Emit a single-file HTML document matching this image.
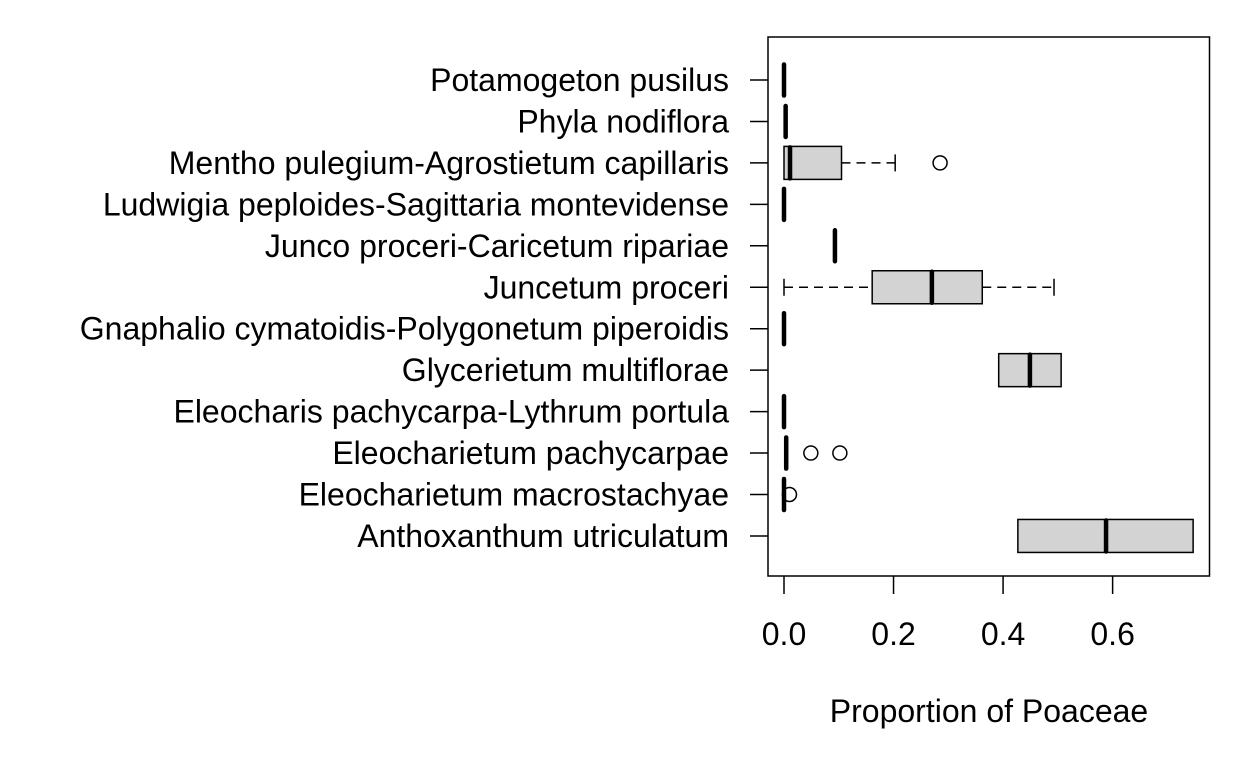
<!DOCTYPE html>
<html><head><meta charset="utf-8"><style>
html,body{margin:0;padding:0;background:#fff}
svg{display:block;font-family:"Liberation Sans",Arial,sans-serif}
</style></head><body>
<svg id="chart" width="1248" height="768" viewBox="0 0 1248 768">
<rect x="768" y="37" width="441.5" height="539" fill="none" stroke="#000" stroke-width="1.5"/>
<g id="marks"></g>
<text x="989" y="722" text-anchor="middle" font-size="32">Proportion of Poaceae</text>
</svg>
<script>
const categories = ["Potamogeton pusilus","Phyla nodiflora","Mentho pulegium-Agrostietum capillaris","Ludwigia peploides-Sagittaria montevidense","Junco proceri-Caricetum ripariae","Juncetum proceri","Gnaphalio cymatoidis-Polygonetum piperoidis","Glycerietum multiflorae","Eleocharis pachycarpa-Lythrum portula","Eleocharietum pachycarpae","Eleocharietum macrostachyae","Anthoxanthum utriculatum"];
const whiskerLow = [0,0.003,0,0,0.093,0,0,0.392,0,0.002,0,0.427];
const q1 = [0,0.003,0,0,0.093,0.161,0,0.392,0,0.002,0,0.427];
const medians = [0,0.003,0.011,0,0.093,0.270,0,0.449,0,0.004,0,0.588];
const q3 = [0,0.003,0.105,0,0.093,0.362,0,0.506,0,0.006,0,0.747];
const whiskerHigh = [0,0.003,0.203,0,0.093,0.493,0,0.506,0,0.006,0,0.747];
const outliers = [[],[],[0.285],[],[],[],[],[],[],[0.049,0.102],[0.010],[]];
const xTicks = [0,0.2,0.4,0.6];
const xTickLabels = ["0.0","0.2","0.4","0.6"];

const NS="http://www.w3.org/2000/svg";
const g=document.getElementById('marks');
const xs=v=>784+v*547.7;
const ys=i=>80+i*41.45;
function mk(tag,attrs){const e=document.createElementNS(NS,tag);for(const k in attrs)e.setAttribute(k,attrs[k]);g.appendChild(e);return e;}

xTicks.forEach((t,i)=>{
  const l=mk('line',{x1:xs(t),x2:xs(t),y1:576,y2:594,stroke:'#000','stroke-width':1.5});
  
  
  const tx=mk('text',{x:xs(t),y:645,'text-anchor':'middle','font-size':32});
  tx.textContent=xTickLabels[i];
  
  
});

categories.forEach((c,i)=>{
  const y=ys(i);
  const tk=mk('line',{x1:750,x2:768,y1:y,y2:y,stroke:'#000','stroke-width':1.5});
  
  
  const lb=mk('text',{x:729,y:y+11,'text-anchor':'end','font-size':32});
  lb.textContent=c;
  
  
  const h=16.5;
  if(whiskerLow[i]<q1[i]){
    const w=mk('line',{x1:xs(whiskerLow[i]),x2:xs(q1[i]),y1:y,y2:y,stroke:'#000','stroke-width':1.5,'stroke-dasharray':'9,6'});
    
    
    const cp=mk('line',{x1:xs(whiskerLow[i]),x2:xs(whiskerLow[i]),y1:y-8.5,y2:y+8.5,stroke:'#000','stroke-width':1.5});
    
    
  }
  if(whiskerHigh[i]>q3[i]){
    const w=mk('line',{x1:xs(q3[i]),x2:xs(whiskerHigh[i]),y1:y,y2:y,stroke:'#000','stroke-width':1.5,'stroke-dasharray':'9,6'});
    
    
    const cp=mk('line',{x1:xs(whiskerHigh[i]),x2:xs(whiskerHigh[i]),y1:y-8.5,y2:y+8.5,stroke:'#000','stroke-width':1.5});
    
    
  }
  if(q3[i]>q1[i]){
    const b=mk('rect',{x:xs(q1[i]),y:y-h,width:xs(q3[i])-xs(q1[i]),height:2*h,fill:'#d3d3d3',stroke:'#000','stroke-width':1.5});
    
    
  }
  const m=mk('line',{x1:xs(medians[i]),x2:xs(medians[i]),y1:y-h+1,y2:y+h-1,stroke:'#000','stroke-width':4.5,'stroke-linecap':'round'});
  
  
  outliers[i].forEach(o=>{
    const p=mk('circle',{cx:xs(o),cy:y,r:7,fill:'none',stroke:'#000','stroke-width':1.5});
    
    
  });
});
</script>
</body></html>
